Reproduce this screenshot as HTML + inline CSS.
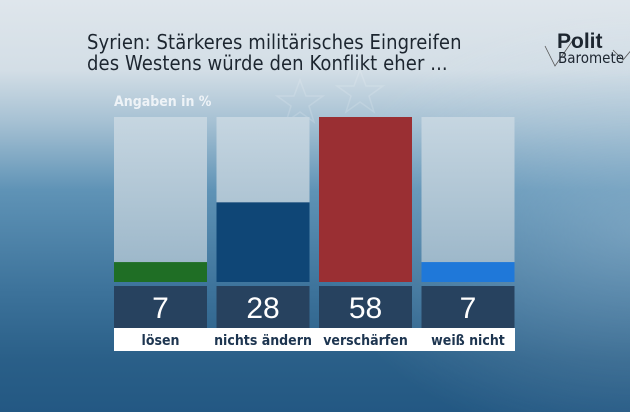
<!DOCTYPE html>
<html><head><meta charset="utf-8">
<style>
html,body{margin:0;padding:0}
body{width:630px;height:412px;overflow:hidden;position:relative;font-family:"Liberation Sans","DejaVu Sans",sans-serif;
background:radial-gradient(ellipse 320px 220px at 640px 230px,rgba(190,212,228,0.35) 0%,rgba(190,212,228,0) 100%),linear-gradient(180deg,#dfe6ec 0%,#d3dee6 70px,#a3bfd2 125px,#5f93b6 190px,#3d739b 290px,#2a5f88 360px,#235883 412px);}
.title{position:absolute;left:87px;top:32px;font-size:20px;line-height:21px;color:#1d2630;font-family:"DejaVu Sans Condensed","DejaVu Sans",sans-serif;letter-spacing:0.1px}
.sub{position:absolute;left:114px;top:94px;font-size:14px;color:#eef3f7;font-family:"DejaVu Sans Condensed","DejaVu Sans",sans-serif;font-weight:bold}
.logo{position:absolute;left:543px;top:24px;width:90px;height:50px}
</style></head><body>
<div class="title">Syrien: Stärkeres militärisches Eingreifen<br>des Westens würde den Konflikt eher ...</div>
<div class="sub">Angaben in %</div>
<div class="logo">
<svg width="90" height="50"><polyline points="2,22 12,42 30,16" fill="none" stroke="#555" stroke-width="0.8"/><polyline points="70,26 80,36 90,24" fill="none" stroke="#555" stroke-width="0.8"/>
<text x="14" y="24" font-size="21" font-weight="bold" fill="#1d2630" font-family="Liberation Sans,sans-serif">Polit</text>
<text x="15" y="39" font-size="15" fill="#1d2630" font-family="DejaVu Sans Condensed,sans-serif">Baromete</text></svg></div>
<svg id="chart" width="630" height="412" style="position:absolute;left:0;top:0">
<defs><linearGradient id="trk" x1="0" y1="0" x2="0" y2="1"><stop offset="0" stop-color="#c6d6e1"/><stop offset="1" stop-color="#98b4c7"/></linearGradient></defs>
<g fill="none" stroke="rgba(255,255,255,0.15)" stroke-width="1.5">
<polygon points="300,80 306,96 323,96 309,106 314,122 300,112 286,122 291,106 277,96 294,96"/>
<polygon points="360,70 366,86 383,86 369,96 374,112 360,102 346,112 351,96 337,86 354,86"/>
</g>
</svg>
<script>
const categories=["lösen","nichts ändern","verschärfen","weiß nicht"];
const values=[7,28,58,7];
const colors=["#1f6e25","#0f4676","#9a2f33","#1f78d9"];
const valueLabels=["7","28","58","7"];
const svg=document.getElementById('chart');
const NS="http://www.w3.org/2000/svg";
const yMax=58, plotTop=117, plotBottom=282;
function y(v){return plotBottom-(v/yMax)*(plotBottom-plotTop);}
function x(i){return 114+i*102.5;}
const bw=93;
function mk(tag,attrs){const e=document.createElementNS(NS,tag);for(const k in attrs)e.setAttribute(k,attrs[k]);svg.appendChild(e);return e;}
const lbg=mk('rect',{x:114,y:328,width:401,height:23,fill:'#ffffff'});


categories.forEach((c,i)=>{
  const bg=mk('rect',{x:x(i),y:plotTop,width:bw,height:plotBottom-plotTop,fill:'url(#trk)'});
  
  
  const b=mk('rect',{x:x(i),y:y(values[i]),width:bw,height:plotBottom-y(values[i]),fill:colors[i]});
  
  
  const vb=mk('rect',{x:x(i),y:286,width:bw,height:42,fill:'#27425f'});
  
  
  const t=mk('text',{x:x(i)+bw/2,y:318,'text-anchor':'middle','font-size':30,fill:'#ffffff','font-family':'Liberation Sans,sans-serif'});
  t.textContent=valueLabels[i];
  
  
  const l=mk('text',{x:x(i)+bw/2,y:345,'text-anchor':'middle','font-size':14,'font-weight':'bold',fill:'#1d3550','font-family':'DejaVu Sans Condensed,DejaVu Sans,sans-serif'});
  l.textContent=c;
  
  
});
</script>
</body></html>
